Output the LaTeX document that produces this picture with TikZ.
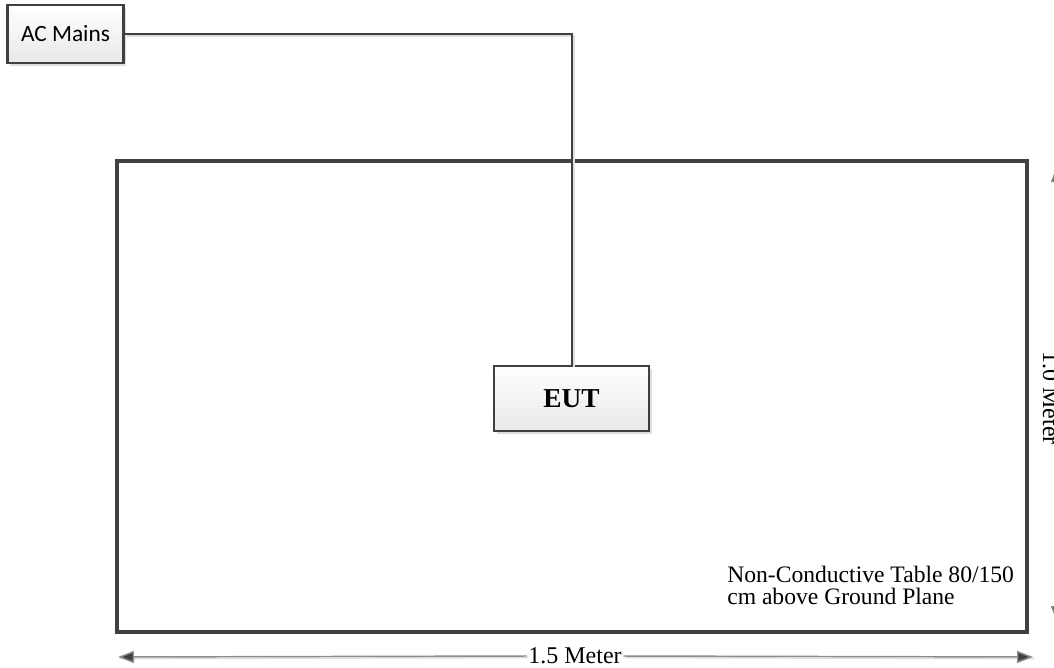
\documentclass[tikz,border=0pt]{standalone}
\usepackage{fontspec}
\setmainfont{Liberation Serif}
\newfontfamily\calibrifont{Carlito}
\usetikzlibrary{arrows.meta,shadows}
\definecolor{edgegray}{RGB}{64,64,64}
\definecolor{dimgray}{RGB}{140,140,140}
\definecolor{shadegray}{RGB}{222,222,222}
\tikzset{
  unitbox/.style={draw=edgegray, line width=1.9pt, top color=white, bottom color=black!9,
    drop shadow={shadow xshift=2.2pt, shadow yshift=-2.2pt, fill=shadegray, opacity=1},
    inner sep=0pt},
  wire/.style={draw=edgegray, line width=1.5pt,
    preaction={draw=shadegray, line width=1.5pt, transform canvas={xshift=1.8pt, yshift=-1.8pt}}},
  dimline/.style={draw=dimgray, line width=1.1pt, -{Triangle[length=12pt, width=9pt, fill=edgegray]},
    preaction={draw=shadegray, line width=1.1pt, -, transform canvas={xshift=1.2pt, yshift=-1.2pt}}},
  dimlabel/.style={inner sep=1pt, font=\fontsize{18}{18}\selectfont}
}
\begin{document}
\begin{tikzpicture}[x=0.75pt,y=0.75pt,yscale=-1,xscale=1]
%set diagram left start at 0, and has height of 668
\useasboundingbox (0,0) rectangle (1054,668);

%Shape: Rectangle [table]
\draw [draw=edgegray, line width=3pt] (117,160.5) rectangle (1027,632) ;

% Text Node [mains]
\node [unitbox, minimum width=87pt, minimum height=43.5pt, font=\calibrifont\fontsize{17.5}{18}\selectfont] (mains) at (65.5,34) {AC Mains};
% Text Node [eut]
\node [unitbox, minimum width=116.25pt, minimum height=48.75pt, font=\bfseries\fontsize{20.5}{22}\selectfont] (eut) at (571.5,398.5) {EUT};

%Straight Lines [mains to eut]
\draw [wire] (mains.east) -| (eut.north) ;

% Text Node [table label]
\node [anchor=north west, inner sep=0pt, align=left, font=\fontsize{17.7}{16.5}\selectfont] (tablelabel) at (727,566) {Non-Conductive Table 80/150\\cm above Ground Plane};

%Dimension [width]
\coordinate (wleft) at (118,657);
\coordinate (wright) at (1033,657);
\node [dimlabel] (wlabel) at (575,656) {1.5 Meter};
\draw [dimline] (wlabel.west) -- (wleft) ;
\draw [dimline] (wlabel.east) -- (wright) ;

%Dimension [depth]
\coordinate (dtop) at (1057,166);
\coordinate (dbottom) at (1057,622);
\node [dimlabel, rotate=-90] (dlabel) at (1051,398) {1.0 Meter};
\draw [dimline] (dlabel.east -| dtop) -- (dtop) ;
\draw [dimline] (dlabel.west -| dbottom) -- (dbottom) ;
\end{tikzpicture}
\end{document}
